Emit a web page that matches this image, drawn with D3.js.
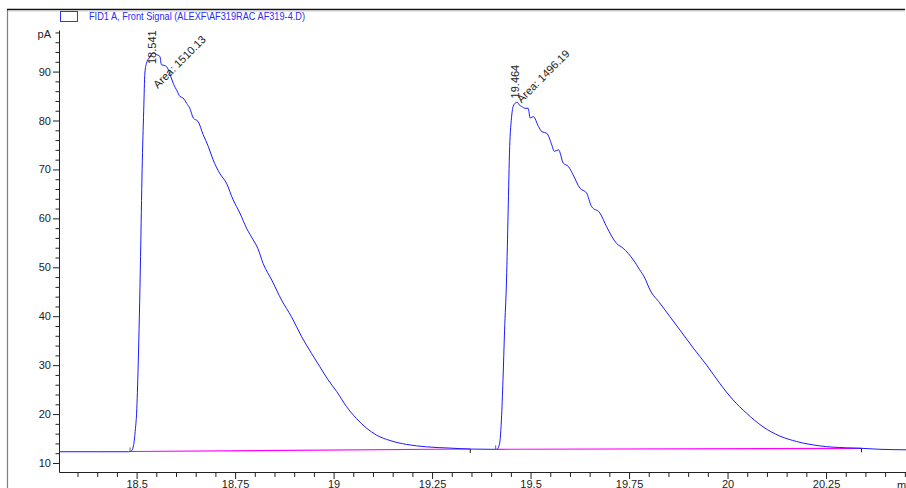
<!DOCTYPE html>
<html>
<head>
<meta charset="utf-8">
<script src="https://cdn.jsdelivr.net/npm/d3@7"></script>
<style>
  body { margin: 0; background: #fff; }
  text { font-family: "Liberation Sans Narrow", "Arial Narrow", "Liberation Sans", sans-serif; }
</style>
</head>
<body>
<div id="chart"></div>
<script>

// Signal trace (min, pA)
var signalTime = [18.303, 18.40, 18.480, 18.486, 18.492, 18.497, 18.500, 18.504, 18.507, 18.510,
  18.514, 18.518, 18.521, 18.525, 18.532, 18.542, 18.550, 18.559, 18.563, 18.572,
  18.578, 18.585, 18.593, 18.603, 18.610, 18.618, 18.627, 18.635, 18.644, 18.656,
  18.669, 18.682, 18.694, 18.711, 18.728, 18.745, 18.762, 18.779, 18.796, 18.808,
  18.821, 18.843, 18.868, 18.893, 18.919, 18.944, 18.965, 18.986, 19.008, 19.033,
  19.058, 19.084, 19.109, 19.143, 19.185, 19.236, 19.295, 19.347, 19.400, 19.414,
  19.420, 19.423, 19.426, 19.430, 19.434, 19.439, 19.443, 19.447, 19.451, 19.456,
  19.462, 19.467, 19.471, 19.477, 19.486, 19.494, 19.499, 19.507, 19.520, 19.529,
  19.541, 19.554, 19.560, 19.571, 19.583, 19.596, 19.608, 19.625, 19.642, 19.655,
  19.676, 19.693, 19.718, 19.735, 19.761, 19.777, 19.790, 19.803, 19.828, 19.854,
  19.879, 19.913, 19.947, 19.980, 20.014, 20.048, 20.090, 20.133, 20.175, 20.234,
  20.302, 20.340, 20.387, 20.453];
var signalPA = [12.3, 12.3, 12.3, 12.4, 13.5, 17.0, 20.2, 30.0, 40.0, 52.2,
  70.0, 82.0, 89.7, 91.7, 92.8, 93.8, 93.5, 93.1, 91.4, 91.2,
  90.8, 89.4, 87.6, 86.0, 84.9, 84.6, 83.5, 82.5, 80.5, 79.8,
  77.1, 74.7, 72.0, 69.2, 67.2, 63.8, 61.1, 58.0, 55.6, 53.8,
  50.8, 47.4, 43.3, 39.9, 35.8, 32.4, 29.7, 27.0, 24.6, 21.5,
  19.1, 17.1, 15.7, 14.6, 13.8, 13.3, 13.05, 12.85, 12.8, 12.8,
  13.5, 15.0, 18.8, 27.0, 37.0, 47.4, 61.1, 74.7, 80.0, 82.9,
  83.6, 83.7, 83.2, 82.9, 82.5, 82.5, 80.5, 80.8, 78.8, 77.7,
  77.4, 75.0, 73.7, 74.0, 71.3, 70.6, 68.9, 66.2, 65.2, 62.4,
  61.1, 58.3, 54.9, 53.9, 51.5, 49.5, 47.8, 45.4, 42.7, 39.9,
  37.2, 33.5, 30.0, 26.3, 22.9, 20.2, 17.4, 15.5, 14.4, 13.5,
  13.1, 13.0, 12.8, 12.7];

// Integrated peaks
var peakRT = [18.541, 19.464];
var peakApex = [93.8, 83.7];
var peakArea = ["1510.13", "1496.19"];
var peakStart = [18.486, 19.414];
var peakEnd = [19.347, 20.340];
var baseStart = [12.35, 12.8];
var baseEnd = [12.86, 13.0];

var xMajorTicks = [18.5, 18.75, 19, 19.25, 19.5, 19.75, 20, 20.25];
var yMajorTicks = [10, 20, 30, 40, 50, 60, 70, 80, 90];
var legendLabel = "FID1 A, Front Signal (ALEXF\\AF319RAC AF319-4.D)";

var svgWidth = 906;
var svgHeight = 488;

var margin = { top: 30, right: 0, bottom: 16, left: 59 };
var width = svgWidth - margin.left - margin.right;
var height = svgHeight - margin.top - margin.bottom;

var svg = d3.select("#chart")
  .append("svg")
  .attr("width", svgWidth)
  .attr("height", svgHeight);

// outer frame
svg.append("line")
  .attr("x1", 7.5).attr("x2", 7.5).attr("y1", 9).attr("y2", svgHeight)
  .attr("stroke", "#808080").attr("stroke-width", 1.2);
svg.append("line")
  .attr("x1", 7).attr("x2", 905).attr("y1", 9.5).attr("y2", 9.5)
  .attr("stroke", "#111").attr("stroke-width", 1.6);
svg.append("line")
  .attr("x1", 8).attr("x2", 905).attr("y1", 11).attr("y2", 11)
  .attr("stroke", "#ccc").attr("stroke-width", 1);

// legend
svg.append("rect")
  .attr("x", 60.5).attr("y", 11.5).attr("width", 17).attr("height", 10)
  .attr("fill", "none").attr("stroke", "#3333ff").attr("stroke-width", 1);
svg.append("text")
  .attr("x", 89).attr("y", 20)
  .attr("font-size", 11)
  .attr("fill", "#2a2aff")
  .attr("textLength", 216)
  .attr("lengthAdjust", "spacingAndGlyphs")
  .text(legendLabel);

var chartGroup = svg.append("g")
  .attr("transform", `translate(${margin.left}, ${margin.top})`);

var x = d3.scaleLinear()
  .domain([18.303, 20.453])
  .range([0, width]);

var y = d3.scaleLinear()
  .domain([8.16, 98.5])
  .range([height, 0]);

// y axis: minor ticks then major
var yMinor = d3.range(12, 99, 2).filter(v => v % 10 !== 0);
chartGroup.append("g")
  .call(d3.axisLeft(y).tickValues(yMinor).tickSize(3.5).tickFormat(""))
  .call(g => g.select(".domain").remove());
var yAxis = chartGroup.append("g")
  .call(d3.axisLeft(y).tickValues(yMajorTicks).tickSize(6).tickPadding(2).tickSizeOuter(0));
yAxis.selectAll("text").attr("font-size", 11).attr("fill", "#222").attr("font-family", null);

chartGroup.append("text")
  .attr("x", -8).attr("y", 8)
  .attr("text-anchor", "end")
  .attr("font-size", 11)
  .attr("fill", "#222")
  .text("pA");

// x axis
var xMinor = d3.range(18.35, 20.46, 0.05).filter(v => xMajorTicks.every(m => Math.abs(m - v) > 0.001));
chartGroup.append("g")
  .attr("transform", `translate(0, ${height})`)
  .call(d3.axisBottom(x).tickValues(xMinor).tickSize(5).tickFormat(""))
  .call(g => g.select(".domain").remove());
var xAxis = chartGroup.append("g")
  .attr("transform", `translate(0, ${height})`)
  .call(d3.axisBottom(x).tickValues(xMajorTicks).tickSize(7).tickPadding(1).tickSizeOuter(0)
    .tickFormat(d => String(d)));
xAxis.selectAll("text").attr("font-size", 11).attr("fill", "#222").attr("font-family", null);

chartGroup.append("text")
  .attr("x", 838).attr("y", height + 17)
  .attr("font-size", 11)
  .attr("fill", "#222")
  .text("min");

chartGroup.selectAll(".domain").attr("stroke", "#222");
chartGroup.selectAll(".tick line").attr("stroke", "#222");

// baselines
var peaks = peakRT.map((rt, i) => ({
  rt: rt, apex: peakApex[i], area: peakArea[i],
  t0: peakStart[i], t1: peakEnd[i], b0: baseStart[i], b1: baseEnd[i]
}));

chartGroup.selectAll(".baseline")
  .data(peaks)
  .enter()
  .append("line")
  .attr("class", "baseline")
  .attr("x1", d => x(d.t0)).attr("y1", d => y(d.b0))
  .attr("x2", d => x(d.t1)).attr("y2", d => y(d.b1))
  .attr("stroke", "#ff00ff")
  .attr("stroke-width", 1.2);

// signal
var line = d3.line()
  .x(d => x(d[0]))
  .y(d => y(d[1]))
  .curve(d3.curveMonotoneX);

chartGroup.append("path")
  .datum(signalTime.map((t, i) => [t, signalPA[i]]))
  .attr("d", line)
  .attr("fill", "none")
  .attr("stroke", "#1a1aff")
  .attr("stroke-width", 1);

// start / end markers
chartGroup.selectAll(".mstart")
  .data(peaks)
  .enter()
  .append("line")
  .attr("x1", d => x(d.t0) - 1).attr("x2", d => x(d.t0) - 1)
  .attr("y1", d => y(d.b0)).attr("y2", d => y(d.b0) - 4)
  .attr("stroke", "#666");
chartGroup.selectAll(".mend")
  .data(peaks)
  .enter()
  .append("line")
  .attr("x1", d => x(d.t1)).attr("x2", d => x(d.t1))
  .attr("y1", d => y(d.b1)).attr("y2", d => y(d.b1) + 4)
  .attr("stroke", "#222");

// peak labels
chartGroup.selectAll(".rtlabel")
  .data(peaks)
  .enter()
  .append("text")
  .attr("transform", d => `translate(${x(d.rt) + 3}, ${Math.max(y(d.apex) - 4, 34)}) rotate(-90)`)
  .attr("font-size", 11)
  .attr("fill", "#222")
  .text(d => d.rt.toFixed(3));

chartGroup.selectAll(".arealabel")
  .data(peaks)
  .enter()
  .append("text")
  .attr("transform", d => `translate(${x(d.rt) + 5}, ${Math.max(y(d.apex) + 1, 59)}) rotate(-45)`)
  .attr("font-size", 11)
  .attr("fill", "#222")
  .text(d => "Area: " + d.area);

</script>
</body>
</html>
